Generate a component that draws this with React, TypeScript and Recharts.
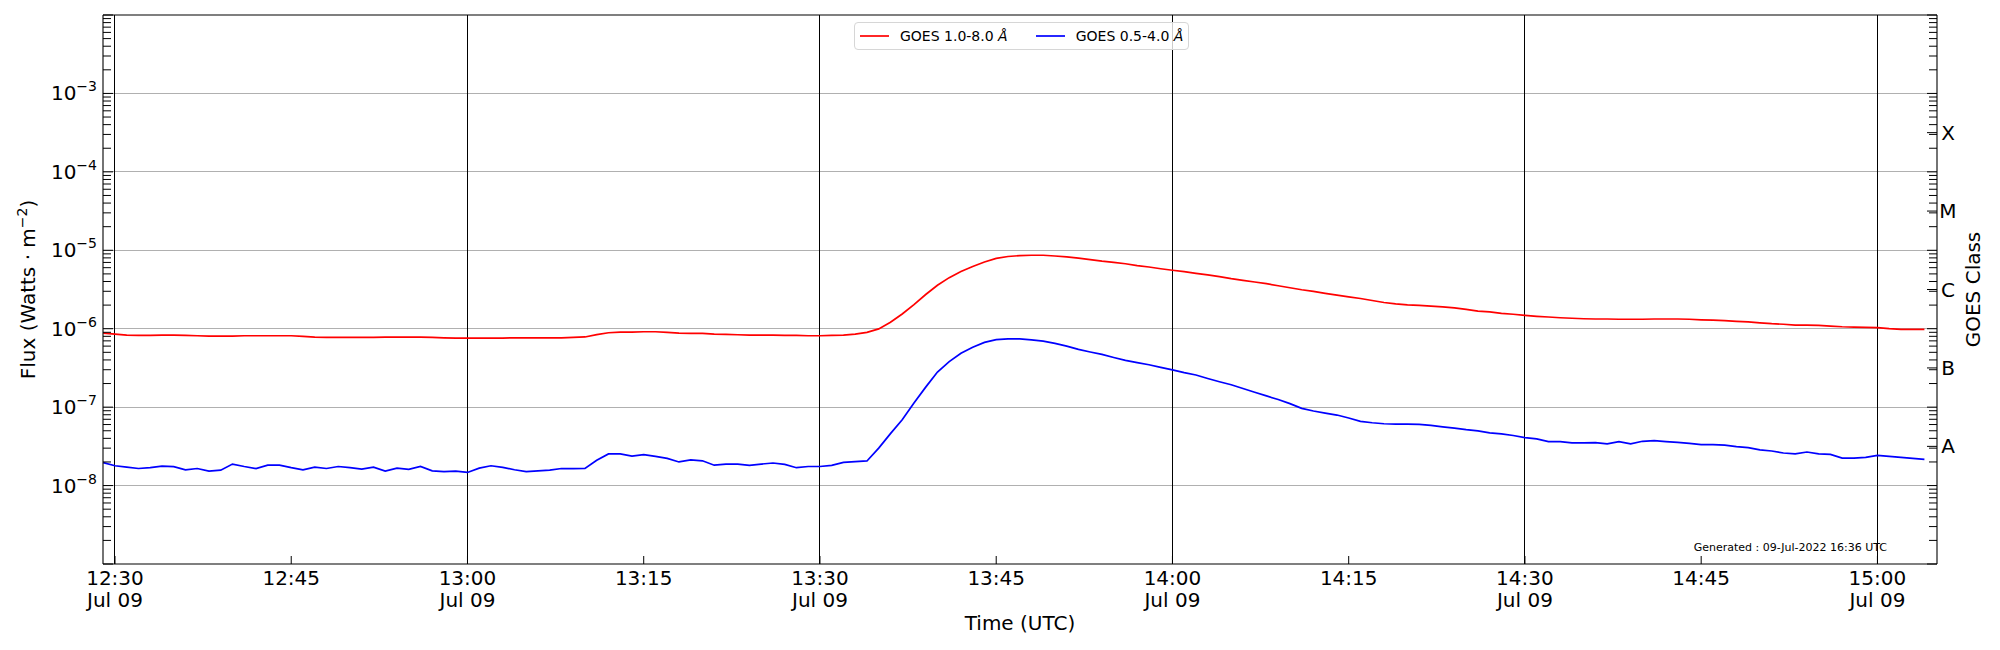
import { LineChart, Line, XAxis, YAxis, ReferenceLine, Legend, Label } from 'recharts'

// first sample is 12:29 UTC; x values are minutes after 12:30, one sample per minute
const FIRST_MINUTE = -1

// GOES XRS 1.0-8.0 A channel (W m^-2)
const longChannel = [
  8.8e-7, 8.54e-7, 8.29e-7, 8.21e-7, 8.21e-7, 8.29e-7, 8.29e-7, 8.21e-7, 8.13e-7, 8.05e-7,
  8.05e-7, 8.05e-7, 8.13e-7, 8.13e-7, 8.13e-7, 8.13e-7, 8.13e-7, 7.97e-7, 7.81e-7, 7.74e-7,
  7.74e-7, 7.74e-7, 7.74e-7, 7.74e-7, 7.81e-7, 7.81e-7, 7.81e-7, 7.81e-7, 7.74e-7, 7.66e-7,
  7.59e-7, 7.59e-7, 7.59e-7, 7.59e-7, 7.59e-7, 7.66e-7, 7.66e-7, 7.66e-7, 7.66e-7, 7.66e-7,
  7.74e-7, 7.85e-7, 8.4e-7, 8.88e-7, 9.06e-7, 9.06e-7, 9.15e-7, 9.15e-7, 8.97e-7, 8.8e-7,
  8.71e-7, 8.71e-7, 8.54e-7, 8.46e-7, 8.37e-7, 8.29e-7, 8.29e-7, 8.29e-7, 8.21e-7, 8.21e-7,
  8.13e-7, 8.13e-7, 8.21e-7, 8.29e-7, 8.54e-7, 8.97e-7, 9.95e-7, 1.21e-6, 1.54e-6, 2.03e-6,
  2.73e-6, 3.58e-6, 4.48e-6, 5.35e-6, 6.22e-6, 7.1e-6, 7.9e-6, 8.33e-6, 8.55e-6, 8.64e-6,
  8.64e-6, 8.46e-6, 8.25e-6, 7.94e-6, 7.62e-6, 7.26e-6, 7.01e-6, 6.74e-6, 6.39e-6, 6.12e-6,
  5.82e-6, 5.56e-6, 5.35e-6, 5.09e-6, 4.85e-6, 4.61e-6, 4.35e-6, 4.14e-6, 3.94e-6, 3.75e-6,
  3.53e-6, 3.33e-6, 3.14e-6, 2.99e-6, 2.82e-6, 2.68e-6, 2.55e-6, 2.43e-6, 2.29e-6, 2.16e-6,
  2.07e-6, 2.01e-6, 1.98e-6, 1.94e-6, 1.9e-6, 1.84e-6, 1.76e-6, 1.68e-6, 1.64e-6, 1.57e-6,
  1.53e-6, 1.48e-6, 1.44e-6, 1.41e-6, 1.38e-6, 1.36e-6, 1.34e-6, 1.33e-6, 1.33e-6, 1.32e-6,
  1.32e-6, 1.32e-6, 1.33e-6, 1.33e-6, 1.33e-6, 1.32e-6, 1.3e-6, 1.29e-6, 1.27e-6, 1.24e-6,
  1.22e-6, 1.19e-6, 1.16e-6, 1.14e-6, 1.11e-6, 1.11e-6, 1.1e-6, 1.08e-6, 1.06e-6, 1.05e-6,
  1.04e-6, 1.03e-6, 1.0e-6, 9.8e-7, 9.8e-7, 9.8e-7,
]

// GOES XRS 0.5-4.0 A channel (W m^-2)
const shortChannel = [
  1.96e-8, 1.79e-8, 1.72e-8, 1.65e-8, 1.69e-8, 1.77e-8, 1.74e-8, 1.59e-8, 1.65e-8, 1.53e-8,
  1.57e-8, 1.88e-8, 1.75e-8, 1.65e-8, 1.82e-8, 1.82e-8, 1.69e-8, 1.59e-8, 1.72e-8, 1.65e-8,
  1.75e-8, 1.69e-8, 1.62e-8, 1.72e-8, 1.53e-8, 1.67e-8, 1.61e-8, 1.75e-8, 1.54e-8, 1.51e-8,
  1.53e-8, 1.47e-8, 1.67e-8, 1.79e-8, 1.71e-8, 1.59e-8, 1.51e-8, 1.54e-8, 1.57e-8, 1.65e-8,
  1.64e-8, 1.65e-8, 2.1e-8, 2.53e-8, 2.53e-8, 2.38e-8, 2.48e-8, 2.36e-8, 2.22e-8, 2.0e-8,
  2.12e-8, 2.07e-8, 1.82e-8, 1.88e-8, 1.88e-8, 1.81e-8, 1.88e-8, 1.94e-8, 1.86e-8, 1.69e-8,
  1.75e-8, 1.75e-8, 1.81e-8, 1.98e-8, 2.02e-8, 2.06e-8, 3.0e-8, 4.6e-8, 6.9e-8, 1.13e-7,
  1.8e-7, 2.8e-7, 3.8e-7, 4.87e-7, 5.8e-7, 6.7e-7, 7.25e-7, 7.4e-7, 7.4e-7, 7.2e-7,
  6.95e-7, 6.5e-7, 6.0e-7, 5.45e-7, 5.05e-7, 4.7e-7, 4.3e-7, 3.95e-7, 3.7e-7, 3.47e-7,
  3.22e-7, 2.98e-7, 2.75e-7, 2.57e-7, 2.32e-7, 2.11e-7, 1.93e-7, 1.73e-7, 1.55e-7, 1.39e-7,
  1.25e-7, 1.11e-7, 9.66e-8, 8.93e-8, 8.41e-8, 7.93e-8, 7.26e-8, 6.58e-8, 6.32e-8, 6.14e-8,
  6.08e-8, 6.08e-8, 6.02e-8, 5.85e-8, 5.61e-8, 5.4e-8, 5.17e-8, 4.99e-8, 4.7e-8, 4.57e-8,
  4.35e-8, 4.09e-8, 3.94e-8, 3.64e-8, 3.64e-8, 3.5e-8, 3.5e-8, 3.53e-8, 3.4e-8, 3.64e-8,
  3.4e-8, 3.67e-8, 3.75e-8, 3.64e-8, 3.56e-8, 3.46e-8, 3.33e-8, 3.33e-8, 3.27e-8, 3.14e-8,
  3.05e-8, 2.85e-8, 2.76e-8, 2.6e-8, 2.53e-8, 2.68e-8, 2.53e-8, 2.5e-8, 2.24e-8, 2.24e-8,
  2.29e-8, 2.43e-8, 2.36e-8, 2.29e-8, 2.22e-8, 2.16e-8,
]

const timeTicks = [0, 15, 30, 45, 60, 75, 90, 105, 120, 135, 150]
const dayLines = [0, 30, 60, 90, 120, 150]
const decades = [1e-9, 1e-8, 1e-7, 1e-6, 1e-5, 1e-4, 1e-3, 1e-2]
const labelledDecades = [1e-8, 1e-7, 1e-6, 1e-5, 1e-4, 1e-3]
const goesClasses = ['A', 'B', 'C', 'M', 'X']
const classCenters = [3.162e-8, 3.162e-7, 3.162e-6, 3.162e-5, 3.162e-4]

const FONT = '"DejaVu Sans", sans-serif'

const minorTicks = decades.slice(0, -1).flatMap((d) => [2, 3, 4, 5, 6, 7, 8, 9].map((k) => k * d))
const leftTicks = [...decades, ...minorTicks].sort((a, b) => a - b)
const rightTicks = [...decades, ...minorTicks, ...classCenters].sort((a, b) => a - b)

const data = longChannel.map((v, i) => ({
  minute: FIRST_MINUTE + i,
  long: v,
  short: shortChannel[i],
}))

const near = (a: number, b: number) => Math.abs(Math.log10(a) - Math.log10(b)) < 1e-4
const isDecade = (v: number) => decades.some((d) => near(d, v))

function formatTime(m: number) {
  const total = 12 * 60 + 30 + m
  const hh = Math.floor(total / 60)
  const mm = total % 60
  return `${hh}:${String(mm).padStart(2, '0')}`
}

function TimeTick({ x, y, payload }: any) {
  const m = payload.value
  return (
    <g>
      <line x1={x} x2={x} y1={y} y2={y - 8} stroke="#000" strokeWidth={1} />
      <text x={x} y={y + 21} textAnchor="middle" fontSize={20} fill="#000" fontFamily={FONT}>
        {formatTime(m)}
      </text>
      {m % 30 === 0 && (
        <text x={x} y={y + 43} textAnchor="middle" fontSize={20} fill="#000" fontFamily={FONT}>
          Jul 09
        </text>
      )}
    </g>
  )
}

function FluxTick({ x, y, payload }: any) {
  const v = payload.value
  const major = isDecade(v)
  const exp = Math.round(Math.log10(v))
  const labelled = major && labelledDecades.some((d) => near(d, v))
  return (
    <g>
      <line x1={x} x2={x + (major ? 10 : 8)} y1={y} y2={y} stroke="#000" strokeWidth={1} />
      {labelled && (
        <text x={x - 6} y={y + 7} textAnchor="end" fontSize={20} fill="#000" fontFamily={FONT}>
          10
          <tspan dy={-9} fontSize={14}>
            {'\u2212' + String(-exp)}
          </tspan>
        </text>
      )}
    </g>
  )
}

function ClassTick({ x, y, payload }: any) {
  const v = payload.value
  const idx = classCenters.findIndex((c) => near(c, v))
  const major = isDecade(v) || idx >= 0
  return (
    <g>
      <line x1={x} x2={x - (major ? 10 : 8)} y1={y} y2={y} stroke="#000" strokeWidth={1} />
      {idx >= 0 && (
        <text x={x + 11} y={y + 7} textAnchor="middle" fontSize={20} fill="#000" fontFamily={FONT}>
          {goesClasses[idx]}
        </text>
      )}
    </g>
  )
}

function FluxLabel({ viewBox }: any) {
  const cy = viewBox.y + viewBox.height / 2
  return (
    <text
      transform={`translate(35, ${cy}) rotate(-90)`}
      textAnchor="middle"
      fontSize={20}
      fill="#000"
      fontFamily={FONT}
    >
      Flux (Watts · m
      <tspan dy={-8} fontSize={14}>
        {'\u22122'}
      </tspan>
      <tspan dy={8}>)</tspan>
    </text>
  )
}

function ClassLabel({ viewBox }: any) {
  const cy = viewBox.y + viewBox.height / 2
  return (
    <text
      transform={`translate(1980, ${cy}) rotate(-90)`}
      textAnchor="middle"
      fontSize={20}
      fill="#000"
      fontFamily={FONT}
    >
      GOES Class
    </text>
  )
}

function LegendBox({ payload }: any) {
  const items = [...(payload ?? [])].sort((a: any, b: any) =>
    String(a.dataKey).localeCompare(String(b.dataKey)),
  )
  return (
    <div
      style={{
        display: 'flex',
        alignItems: 'center',
        height: 28,
        boxSizing: 'border-box',
        border: '1px solid #d6d6d6',
        borderRadius: 4,
        background: 'rgba(255,255,255,0.8)',
        fontSize: 14,
        fontFamily: FONT,
        padding: '0 5px',
        whiteSpace: 'nowrap',
        color: '#000',
      }}
    >
      {items.map((entry: any, i: number) => (
        <div key={i} style={{ display: 'flex', alignItems: 'center', marginLeft: i ? 28 : 0 }}>
          <svg width={29} height={4}>
            <line x1={0} x2={29} y1={2} y2={2} stroke={entry.color} strokeWidth={1.7} />
          </svg>
          <span style={{ marginLeft: 11 }}>
            {String(entry.value).replace('Å', '')}
            <i>Å</i>
          </span>
        </div>
      ))}
    </div>
  )
}

export default function App() {
  return (
    <div
      style={{
        position: 'absolute',
        left: 0,
        top: 0,
        width: 2000,
        height: 650,
        background: '#fff',
        fontFamily: FONT,
      }}
    >
      <LineChart width={2000} height={650} data={data} margin={{ top: 15, right: 0, bottom: 0, left: 0 }}>
        <XAxis
          dataKey="minute"
          type="number"
          domain={[-1.02, 155.07]}
          allowDataOverflow
          ticks={timeTicks}
          interval={0}
          tick={<TimeTick />}
          tickLine={false}
          tickSize={0}
          tickMargin={0}
          height={86}
          axisLine={{ stroke: '#000', strokeWidth: 1.1 }}
        >
          <Label value="Time (UTC)" position="insideBottom" offset={20} fontSize={20} fill="#000" fontFamily={FONT} />
        </XAxis>
        <YAxis
          yAxisId="left"
          type="number"
          scale="log"
          domain={[1e-9, 1e-2]}
          allowDataOverflow
          ticks={leftTicks}
          interval={0}
          tick={<FluxTick />}
          tickLine={false}
          tickSize={0}
          tickMargin={0}
          width={103}
          axisLine={{ stroke: '#000', strokeWidth: 1.1 }}
        >
          <Label content={<FluxLabel />} />
        </YAxis>
        <YAxis
          yAxisId="right"
          orientation="right"
          type="number"
          scale="log"
          domain={[1e-9, 1e-2]}
          allowDataOverflow
          ticks={rightTicks}
          interval={0}
          tick={<ClassTick />}
          tickLine={false}
          tickSize={0}
          tickMargin={0}
          width={63}
          axisLine={{ stroke: '#000', strokeWidth: 1.1 }}
        >
          <Label content={<ClassLabel />} />
        </YAxis>
        {labelledDecades.map((d) => (
          <ReferenceLine
            key={`g${d}`}
            yAxisId="left"
            y={d}
            stroke="#b0b0b0"
            strokeWidth={1}
            shapeRendering="crispEdges"
          />
        ))}
        <ReferenceLine yAxisId="left" y={1e-2} stroke="#000" strokeWidth={1.1} />
        {dayLines.map((m) => (
          <ReferenceLine
            key={`d${m}`}
            yAxisId="left"
            x={m}
            stroke="#000"
            strokeWidth={1}
            shapeRendering="crispEdges"
          />
        ))}
        <Legend
          layout="horizontal"
          verticalAlign="middle"
          align="center"
          itemSorter="dataKey"
          content={<LegendBox />}
          wrapperStyle={{ left: 854, top: 22, width: 'auto', height: 28 }}
        />
        <Line
          yAxisId="left"
          type="linear"
          dataKey="long"
          name="GOES 1.0-8.0 Å"
          stroke="#ff0000"
          strokeWidth={1.7}
          dot={false}
          isAnimationActive={false}
        />
        <Line
          yAxisId="left"
          type="linear"
          dataKey="short"
          name="GOES 0.5-4.0 Å"
          stroke="#0000ff"
          strokeWidth={1.7}
          dot={false}
          isAnimationActive={false}
        />
      </LineChart>
      <div
        style={{
          position: 'absolute',
          right: 113,
          top: 542,
          fontSize: 11,
          lineHeight: '11px',
          color: '#000',
          whiteSpace: 'nowrap',
        }}
      >
        Generated : 09-Jul-2022 16:36 UTC
      </div>
    </div>
  )
}
